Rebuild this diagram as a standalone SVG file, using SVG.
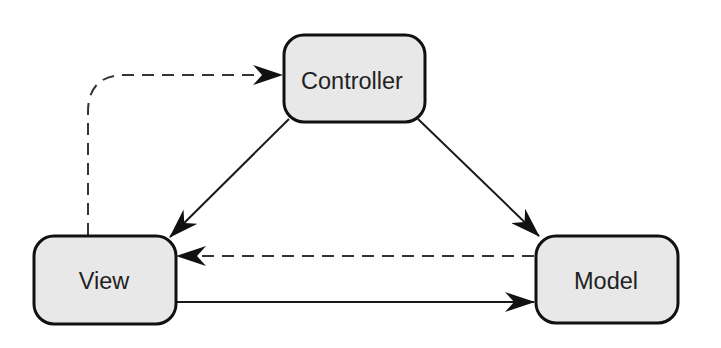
<svg xmlns="http://www.w3.org/2000/svg" width="721" height="348" viewBox="0 0 721 348">
<defs>
<style>
.node rect{fill:#e8e8e8;stroke:#111;stroke-width:3}
.node text{font-family:"Liberation Sans",Arial,sans-serif;font-size:23.5px;fill:#222;text-anchor:middle}
.edge{fill:none;stroke:#1a1a1a;stroke-width:2}
.dash{stroke:#333;stroke-dasharray:12 8}
</style>
<marker id="ah" viewBox="0 0 30 20" refX="29" refY="10" markerWidth="30" markerHeight="20" markerUnits="userSpaceOnUse" orient="auto">
<path d="M0,0 L30,10 L0,20 L9,10 Z" fill="#111"/>
</marker>
</defs>
<rect width="721" height="348" fill="#fff"/>
<g id="connectors">
<path class="edge dash" d="M88,235 V112 Q88,75 125,75 H282" marker-end="url(#ah)"/>
<path class="edge" d="M289,119 L170,237" marker-end="url(#ah)"/>
<path class="edge" d="M418,119 L539,236" marker-end="url(#ah)"/>
<path class="edge dash" d="M534,256 H177" marker-end="url(#ah)"/>
<path class="edge" d="M177,302 H534" marker-end="url(#ah)"/>
</g>
<g id="controller" class="node">
<rect x="284" y="35" width="141" height="87" rx="20"/>
<text x="352" y="89">Controller</text>
</g>
<g id="view" class="node">
<rect x="34" y="236" width="142" height="88" rx="20"/>
<text x="104" y="289">View</text>
</g>
<g id="model" class="node">
<rect x="536" y="236" width="142" height="87" rx="20"/>
<text x="606" y="289">Model</text>
</g>
</svg>
